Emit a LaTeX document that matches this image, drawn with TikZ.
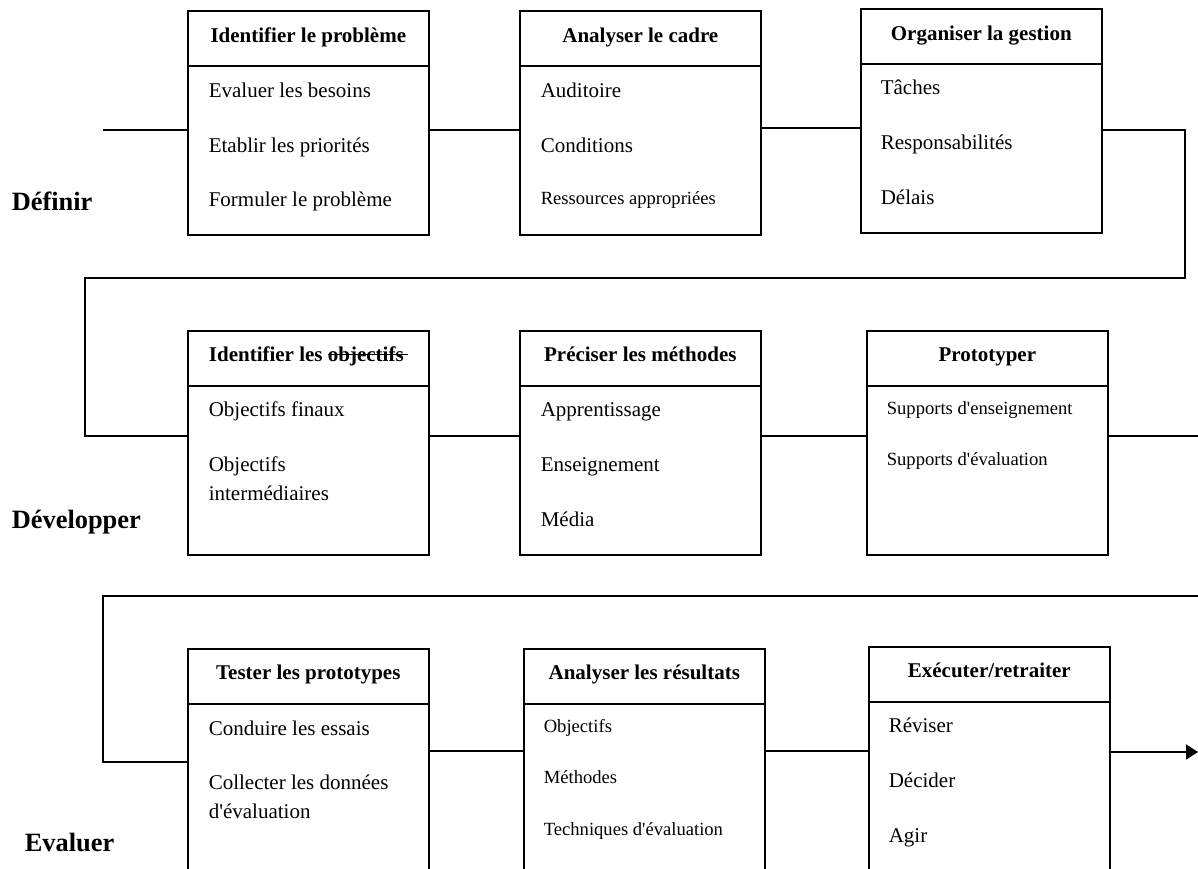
\documentclass[tikz,border=0pt]{standalone}
\usepackage{fontspec}
\setmainfont{Liberation Serif}
\usetikzlibrary{arrows.meta}
\newcommand{\barre}[1]{\setbox0\hbox{#1}%
  \rlap{\rule[0.28em]{\dimexpr\wd0+4pt\relax}{1.3pt}}\box0}
\newcommand{\apos}{\textquotesingle}

\begin{document}
\begin{tikzpicture}[x=1pt, y=-1pt, line width=1.6pt,
    etape/.style={draw, anchor=north west, inner sep=0pt,
      minimum width=241pt, minimum height=224pt},
    titre/.style={anchor=base, inner sep=0pt,
      font=\fontsize{21}{25}\selectfont\bfseries},
    item/.style={anchor=base west, inner sep=0pt,
      font=\fontsize{21}{25}\selectfont},
    petit/.style={anchor=base west, inner sep=0pt,
      font=\fontsize{18.6}{22}\selectfont},
    phase/.style={anchor=base west, inner sep=0pt,
      font=\fontsize{26.4}{30}\selectfont\bfseries}]
      \clip (0,0) rectangle (1198,868);

      % Definir
      \node[phase] (def) at (11,210) {Définir};
      \node[etape] (pb) at (187,10) {};
      \node[etape] (cadre) at (519,10) {};
      \node[etape] (gest) at (860,8) {};

      \node[titre] at (pb.north |- 0,42) {Identifier le problème};
      \node[item] at (208,97) {Evaluer les besoins};
      \node[item] at (208,152) {Etablir les priorités};
      \node[item] at (208,206) {Formuler le problème};

      \node[titre] at (cadre.north |- 0,42) {Analyser le cadre};
      \node[item] at (540,97) {Auditoire};
      \node[item] at (540,152) {Conditions};
      \node[petit] at (540,204) {Ressources appropriées};

      \node[titre] at (gest.north |- 0,40) {Organiser la gestion};
      \node[item] at (880,94) {Tâches};
      \node[item] at (880,149) {Responsabilités};
      \node[item] at (880,204) {Délais};

      % Developper
      \node[phase] (dev) at (11,528) {Développer};
      \node[etape] (obj) at (187,330) {};
      \node[etape] (meth) at (519,330) {};
      \node[etape] (proto) at (866,330) {};

      \node[titre] at (obj.north |- 0,361) {Identifier les \barre{objectifs}\kern4pt};
      \node[item] at (208,416) {Objectifs finaux};
      \node[item] at (208,471) {Objectifs};
      \node[item] at (208,500) {intermédiaires};

      \node[titre] at (meth.north |- 0,361) {Préciser les méthodes};
      \node[item] at (540,416) {Apprentissage};
      \node[item] at (540,471) {Enseignement};
      \node[item] at (540,526) {Média};

      \node[titre] at (proto.north |- 0,361) {Prototyper};
      \node[petit] at (886,414) {Supports d\apos enseignement};
      \node[petit] at (886,465) {Supports d\apos évaluation};

      % Evaluer
      \node[phase] (eval) at (24,851) {Evaluer};
      \node[etape, minimum height=260pt] (test) at (187,648) {};
      \node[etape, minimum height=260pt] (res) at (523,648) {};
      \node[etape, minimum height=260pt] (exec) at (868,646) {};

      \node[titre] at (test.north |- 0,679) {Tester les prototypes};
      \node[item] at (208,735) {Conduire les essais};
      \node[item] at (208,789) {Collecter les données};
      \node[item] at (208,818) {d\apos évaluation};

      \node[titre] at (res.north |- 0,679) {Analyser les résultats};
      \node[petit] at (543,732) {Objectifs};
      \node[petit] at (543,783) {Méthodes};
      \node[petit] at (543,835) {Techniques d\apos évaluation};

      \node[titre] at (exec.north |- 0,677) {Exécuter/retraiter};
      \node[item] at (888,732) {Réviser};
      \node[item] at (888,787) {Décider};
      \node[item] at (888,842) {Agir};

      % header lines
      \foreach \b/\y in {pb/66, cadre/66, gest/64, obj/386, meth/386,
          proto/386, test/704, res/704, exec/702}
        \draw (\b.west |- 0,\y) -- (\b.east |- 0,\y);

      % connectors
      \coordinate (debut) at (103,130);
      \coordinate (coinA) at (1185,278);
      \coordinate (coinB) at (85,436);
      \coordinate (sortieB) at (1198,436);
      \coordinate (entreeC) at (1198,596);
      \coordinate (coinC) at (103,762);
      \coordinate (fin) at (1198,752);

      \draw (debut) -- (pb.west |- debut);
      \draw (pb.east |- debut) -- (cadre.west |- debut);
      \draw (cadre.east |- 0,128) -- (gest.west |- 0,128);
      \draw (gest.east |- debut) -| (coinA) -| (coinB) -- (obj.west |- coinB);

      \draw (obj.east |- coinB) -- (meth.west |- coinB);
      \draw (meth.east |- coinB) -- (proto.west |- coinB);
      \draw (proto.east |- coinB) -- (sortieB);

      \draw (entreeC) -| (coinC) -- (test.west |- coinC);
      \draw (test.east |- 0,751) -- (res.west |- 0,751);
      \draw (res.east |- 0,751) -- (exec.west |- 0,751);
      \draw[-{Triangle[length=12pt, width=15pt]}] (exec.east |- fin) -- (fin);
    \end{tikzpicture}
\end{document}
